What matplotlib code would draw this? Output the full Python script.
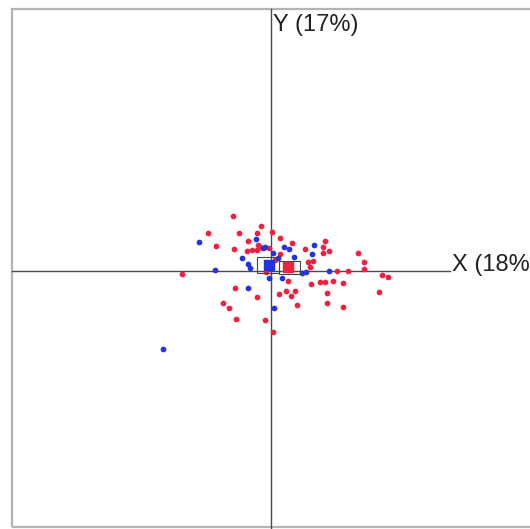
import matplotlib.pyplot as plt
from matplotlib.patches import Rectangle

# scores on the two first axes (red group / blue group)
red_x = [-0.38, -0.63, -0.55, -0.32, -0.10, -0.14, -0.23, -0.13, -0.37, -0.24,
         -0.19, -0.14, -0.02, -0.89, -0.36, -0.14, -0.48, -0.42, -0.35, -0.06,
         -0.05, 0.08, 0.15, 0.20, 0.24, 0.26, 0.56, 0.56, 0.72, 1.08,
         0.02, 0.17, 0.40, 0.49, 0.54, 0.62, 0.72, 0.66, 0.77, 0.93,
         1.11, 1.17, 0.01, 0.09, 0.21, 0.34, 0.54, 0.52, 0.58, 0.52,
         0.87, 0.93, 0.37, 0.42, 0.39, 0.04, -0.11, 0.09]
red_y = [0.55, 0.38, 0.25, 0.38, 0.45, 0.38, 0.30, 0.26, 0.22, 0.20,
         0.21, 0.21, 0.23, -0.03, -0.17, -0.26, -0.32, -0.37, -0.48, -0.49,
         -0.01, -0.23, -0.20, -0.25, -0.20, -0.34, -0.22, -0.32, -0.36, -0.21,
         -0.61, -0.10, -0.13, -0.11, -0.11, -0.10, -0.12, 0.00, 0.00, 0.02,
         -0.04, -0.06, 0.39, 0.33, 0.28, 0.22, 0.30, 0.24, 0.20, 0.18,
         0.18, 0.09, 0.09, 0.10, 0.04, 0.11, 0.24, 0.17]

blue_x = [-0.72, -0.15, -0.06, -0.29, -0.23, -0.21, -0.56, -0.23, -0.02, 0.03,
          -1.08, 0.11, 0.31, 0.35, 0.58, 0.13, 0.18, 0.43, 0.41, 0.23,
          0.07, 0.02, -0.08]
blue_y = [0.29, 0.32, 0.24, 0.13, 0.07, 0.03, 0.01, -0.17, -0.07, -0.37,
          -0.78, -0.07, -0.02, -0.01, 0.00, 0.24, 0.22, 0.26, 0.17, 0.14,
          0.13, 0.18, 0.23]

# group centres and their boxes (xmin, xmax, ymin, ymax)
centre_blue = (-0.02, 0.06)
centre_red = (0.17, 0.04)
box_blue = (-0.14, 0.08, -0.02, 0.14)
box_red = (0.08, 0.29, -0.03, 0.10)

red = "#f2203f"
blue = "#2432e0"

fig = plt.figure(figsize=(5.30, 5.29), dpi=100)
ax = fig.add_axes([0, 0, 1, 1])
ax.set_xlim(-2.71, 2.59)
ax.set_ylim(-2.58, 2.71)
ax.axis("off")

# outer frame
ax.add_patch(Rectangle((-2.59, -2.56), 5.4, 5.18, fill=False,
                       edgecolor="#b4b4b4", lw=1.6))

# axes through origin
ax.plot([0, 0], [-2.6, 2.62], color="#4a4a4a", lw=1.0)
ax.plot([-2.59, 1.79], [0, 0], color="#4a4a4a", lw=1.0)

ax.scatter(red_x, red_y, s=17, color=red, linewidths=0, zorder=3)
ax.scatter(blue_x, blue_y, s=17, color=blue, linewidths=0, zorder=3)

for b in (box_blue, box_red):
    ax.add_patch(Rectangle((b[0], b[2]), b[1] - b[0], b[3] - b[2], fill=False,
                           edgecolor="#444444", lw=0.8, zorder=4))
ax.plot(*centre_blue, "s", color=blue, ms=7, zorder=5)
ax.plot(*centre_red, "s", color=red, ms=7, zorder=5)

ax.text(0.02, 2.40, "Y (17%)", fontsize=17, family="Liberation Sans",
        color="#222222", va="baseline")
# the label runs off the right edge in the original, so only "X (18%" shows
ax.text(1.81, 0.005, "X (18%", fontsize=17, family="Liberation Sans",
        color="#222222", va="baseline")

fig.savefig("out.png", dpi=100)
